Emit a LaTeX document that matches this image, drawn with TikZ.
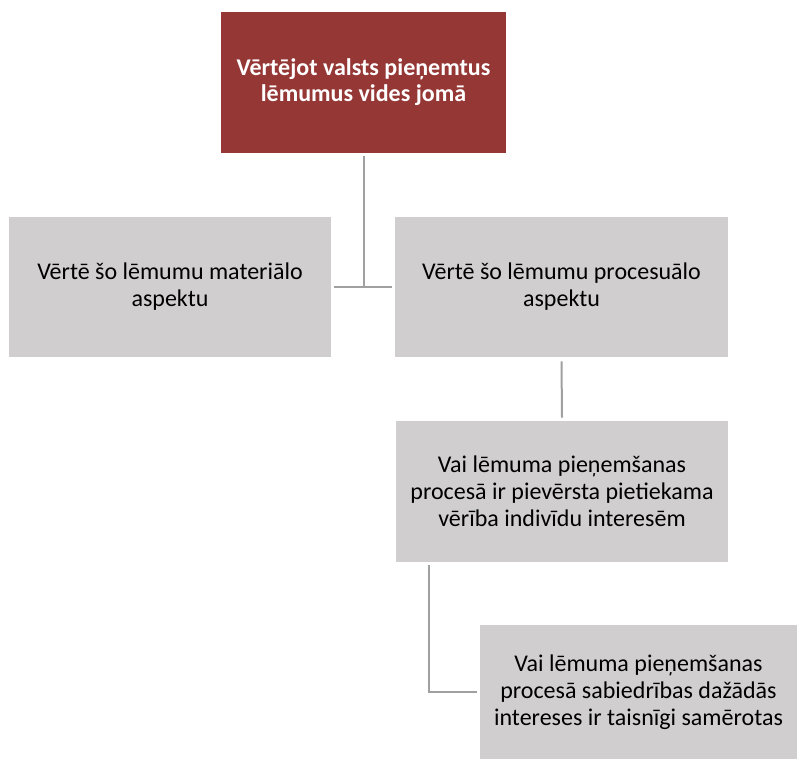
\documentclass[tikz,border=0pt]{standalone}
\usepackage{fontspec}
\setmainfont{Carlito}
\usetikzlibrary{calc}
\definecolor{topred}{HTML}{953735}
\definecolor{boxgray}{HTML}{D0CECE}
\definecolor{linegray}{HTML}{A0A0A0}
\begin{document}
\begin{tikzpicture}[x=0.75pt,y=-0.75pt,
  box/.style={rectangle, fill=boxgray, draw=none, inner sep=0pt, align=center,
    font=\fontsize{18pt}{20.25pt}\selectfont, text=black},
  topbox/.style={box, fill=topred, text=white, font=\fontsize{18pt}{19.5pt}\selectfont\bfseries},
  conn/.style={draw=linegray, line width=1.5pt}]
\useasboundingbox (0,0) rectangle (798,760);
\node[topbox, minimum width=213.75pt, minimum height=105.75pt] (top) at (363.5,82.5)
  {Vērtējot valsts pieņemtus\\lēmumus vides jomā};
\node[box, minimum width=241.5pt, minimum height=105pt] (left) at (170,287)
  {Vērtē šo lēmumu materiālo\\aspektu};
\node[box, minimum width=249.75pt, minimum height=105pt] (right) at (561.5,287)
  {Vērtē šo lēmumu procesuālo\\aspektu};
\node[box, minimum width=249pt, minimum height=105.75pt] (b3) at (562,491.5)
  {Vai lēmuma pieņemšanas\\procesā ir pievērsta pietiekama\\vērība indivīdu interesēm};
\node[box, minimum width=237.75pt, minimum height=100.5pt] (b4) at (638.5,692)
  {Vai lēmuma pieņemšanas\\procesā sabiedrības dažādās\\intereses ir taisnīgi samērotas};
\coordinate (j) at (top.south |- left.east);
\draw[conn] ($(top.south)+(0,3)$) -- (j);
\draw[conn] ($(left.east)+(3,0)$) -- ($(right.west)+(-3,0)$);
\draw[conn] ($(right.south)+(0,4)$) -- ($(b3.north)+(0,-3)$);
\coordinate (s3) at ($(b3.south west)+(33,3)$);
\draw[conn] (s3) |- ($(b4.west)+(-3,0)$);
\end{tikzpicture}
\end{document}
